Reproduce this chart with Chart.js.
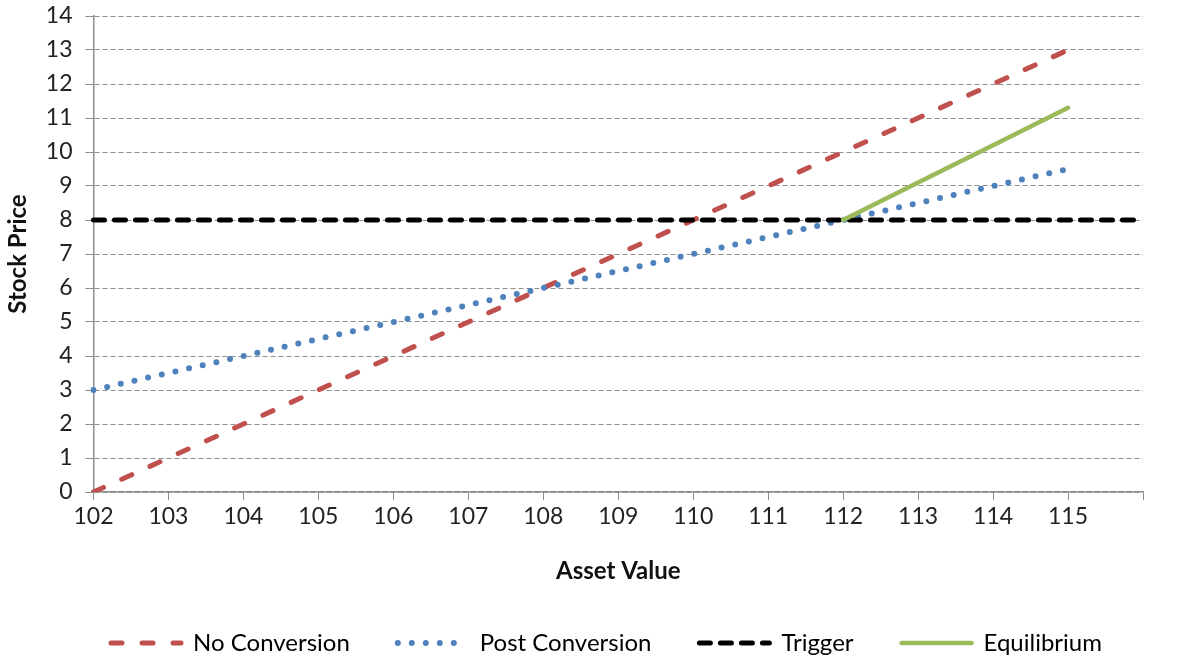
<!DOCTYPE html>
<html>
<head>
<meta charset="utf-8">
<script src="https://cdn.jsdelivr.net/npm/chart.js@4/dist/chart.umd.min.js"></script>
<style>
  html, body { margin: 0; padding: 0; background: #fff; }
  #wrap { width: 1204px; height: 662px; }
</style>
</head>
<body>
<div id="wrap"><canvas id="chart" width="1204" height="662"></canvas></div>
<script>
// --- Data ---
const assetValues = ["102", "103", "104", "105", "106", "107", "108", "109", "110", "111", "112", "113", "114", "115", ""];
const noConversion = [0, 1, 2, 3, 4, 5, 6, 7, 8, 9, 10, 11, 12, 13, null];
const postConversion = [3, 3.5, 4, 4.5, 5, 5.5, 6, 6.5, 7, 7.5, 8, 8.5, 9, 9.5, null];
const trigger = [8, 8, 8, 8, 8, 8, 8, 8, 8, 8, 8, 8, 8, 8, 8];
const equilibrium = [null, null, null, null, null, null, null, null, null, null, 8, 9.1, 10.2, 11.3, null];

const FONT = "Lato, 'Open Sans', sans-serif";
const GRID = "#8e8e8e";

// nudge the legend row a bit to the right, like the original
const legendShift = {
  id: "legendShift",
  afterLayout(chart) {
    chart.legend.left += 33;
    chart.legend.right += 33;
  }
};

const ctx = document.getElementById("chart").getContext("2d");

new Chart(ctx, {
  type: "line",
  data: {
    labels: assetValues,
    datasets: [
      {
        label: "No Conversion",
        data: noConversion,
        borderColor: "#C0504D",
        borderWidth: 5,
        borderDash: [11, 20],
        borderCapStyle: "round",
        order: 3
      },
      {
        label: "Post Conversion",
        data: postConversion,
        borderColor: "#4F81BD",
        borderWidth: 6,
        borderDash: [0, 14],
        borderCapStyle: "round",
        order: 2
      },
      {
        label: "Trigger",
        data: trigger,
        borderColor: "#000000",
        borderWidth: 5,
        borderDash: [11, 10],
        borderCapStyle: "round",
        order: 1
      },
      {
        label: "Equilibrium",
        data: equilibrium,
        borderColor: "#9BBB59",
        borderWidth: 4.5,
        borderCapStyle: "round",
        order: 0
      }
    ]
  },
  options: {
    responsive: false,
    animation: false,
    spanGaps: false,
    elements: {
      point: { radius: 0, hoverRadius: 0 },
      line: { tension: 0, fill: false }
    },
    layout: {
      padding: { top: 16, right: 61, left: 4, bottom: -3 }
    },
    plugins: {
      tooltip: { enabled: false },
      legend: {
        position: "bottom",
        labels: {
          usePointStyle: true,
          pointStyle: "line",
          pointStyleWidth: 70,
          boxHeight: 10,
          padding: 48,
          color: "#222",
          font: { family: FONT, size: 24 },
          // keep dataset order and carry each line's dash into the legend
          generateLabels: (chart) =>
            chart.data.datasets.map((ds, i) => ({
              text: ds.label,
              fillStyle: ds.borderColor,
              strokeStyle: ds.borderColor,
              lineWidth: ds.borderWidth,
              lineDash: ds.borderDash || [],
              lineCap: ds.borderCapStyle,
              pointStyle: "line",
              hidden: false,
              datasetIndex: i
            }))
        }
      }
    },
    scales: {
      x: {
        type: "category",
        offset: false,
        grid: {
          display: true,
          drawOnChartArea: false,
          drawTicks: true,
          tickLength: 8,
          color: GRID
        },
        border: { display: true, color: GRID, width: 1.5 },
        ticks: {
          color: "#222",
          padding: 3,
          autoSkip: false,
          maxRotation: 0,
          font: { family: FONT, size: 23 }
        },
        title: {
          display: true,
          text: "Asset Value",
          color: "#111",
          font: { family: FONT, size: 24, weight: "bold" },
          padding: { top: 23, bottom: -2.4 }
        }
      },
      y: {
        min: 0,
        max: 14,
        grid: {
          color: GRID,
          tickLength: 8,
          lineWidth: 1
        },
        border: { display: true, color: GRID, width: 1.5, dash: [5, 3] },
        ticks: {
          stepSize: 1,
          autoSkip: false,
          color: "#222",
          padding: 13,
          // small line height so the top label does not push the plot down
          font: { family: FONT, size: 23, lineHeight: 0.2 }
        },
        title: {
          display: true,
          text: "Stock Price",
          color: "#111",
          font: { family: FONT, size: 24, weight: "bold" },
          padding: { top: 0, bottom: 0 }
        }
      }
    }
  },
  plugins: [legendShift]
});
</script>
</body>
</html>
